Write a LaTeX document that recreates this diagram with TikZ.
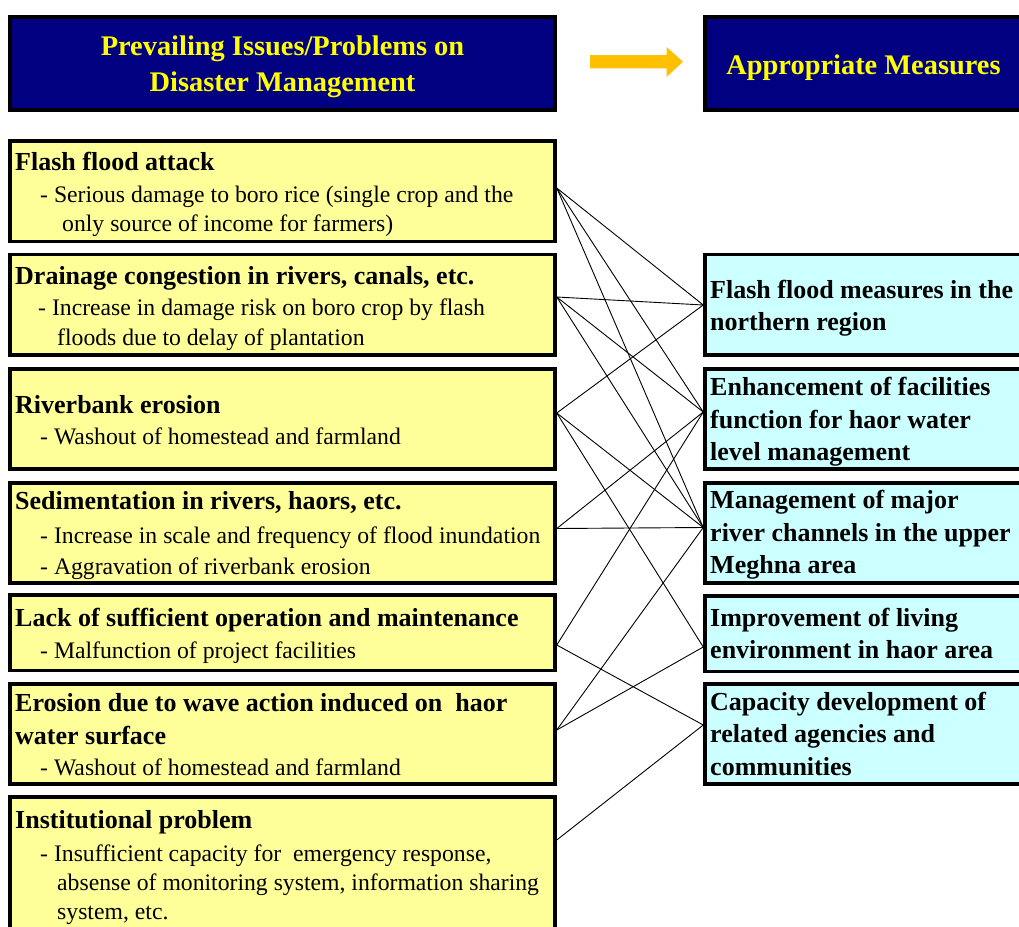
\documentclass[tikz,border=0pt]{standalone}
\usepackage{fontspec}
\setmainfont{Liberation Serif}
\definecolor{hdfill}{HTML}{000080}
\definecolor{hdtext}{HTML}{FFFF00}
\definecolor{issuefill}{HTML}{FFFF99}
\definecolor{measfill}{HTML}{CCFFFF}
\definecolor{arrowfill}{HTML}{FFC000}
\tikzset{
  boxbase/.style={draw=black, line width=3.5pt, rectangle, inner sep=0pt},
  hdbox/.style={boxbase, fill=hdfill},
  lbox/.style={boxbase, fill=issuefill, minimum width=545pt},
  rbox/.style={boxbase, fill=measfill, minimum width=318pt},
  hdtxt/.style={inner sep=0pt, anchor=base, text=hdtext,
    font=\fontsize{28.4pt}{33pt}\selectfont\bfseries},
  ttl/.style={inner sep=0pt, anchor=base west,
    font=\fontsize{26pt}{30pt}\selectfont\bfseries},
  bdy/.style={inner sep=0pt, anchor=base west,
    font=\fontsize{23.7pt}{28pt}\selectfont},
  link/.style={draw=black, line width=0.9pt}
}
\begin{document}
\begin{tikzpicture}[x=1pt,y=-1pt]
\useasboundingbox (0,0) rectangle (1019,926);

% headers
\node[hdbox, minimum width=545pt, minimum height=93pt] (H1) at (282.5,63.5) {};
\node[hdbox, minimum width=318pt, minimum height=93pt] (H2) at (864,63.5) {};
\node[hdtxt] (H1a) at (282.5,55) {Prevailing Issues/Problems on};
\node[hdtxt] (H1b) at (282.5,91) {Disaster Management};
\node[hdtxt] (H2a) at (863.5,74) {Appropriate Measures};

% block arrow between the headers
\fill[arrowfill] (590,55) -- (666.5,55) -- (666.5,47) -- (683,61.7)
  -- (666.5,77) -- (666.5,68.3) -- (590,68.3) -- cycle;

% issue boxes
\node[lbox, minimum height=100.5pt] (L1) at (282.5,191.25) {};
\node[lbox, minimum height=100.5pt] (L2) at (282.5,304.75) {};
\node[lbox, minimum height=100pt]   (L3) at (282.5,419) {};
\node[lbox, minimum height=100pt]   (L4) at (282.5,533) {};
\node[lbox, minimum height=75.5pt]  (L5) at (282.5,632.75) {};
\node[lbox, minimum height=100pt]   (L6) at (282.5,734) {};
\node[lbox, minimum height=150pt]   (L7) at (282.5,872) {};

% measure boxes
\node[rbox, minimum height=100.5pt] (A) at (864,304.75) {};
\node[rbox, minimum height=100pt]   (B) at (864,419) {};
\node[rbox, minimum height=100pt]   (C) at (864,533) {};
\node[rbox, minimum height=75.5pt]  (D) at (864,633.5) {};
\node[rbox, minimum height=100pt]   (E) at (864,734) {};

% connector end points
\coordinate (l1) at (L1.east |- 0,188);
\coordinate (l2) at (L2.east |- 0,297);
\coordinate (l3) at (L3.east |- 0,413);
\coordinate (l4) at (L4.east |- 0,528.5);
\coordinate (l5) at (L5.east |- 0,645);
\coordinate (l6) at (L6.east |- 0,730);
\coordinate (l7) at (L7.east |- 0,840);
\coordinate (ra) at (A.west |- 0,305);
\coordinate (rb) at (B.west |- 0,412);
\coordinate (rc) at (C.west |- 0,527.5);
\coordinate (rd) at (D.west |- 0,647);
\coordinate (re) at (E.west |- 0,725);

% connectors
\draw[link] (l1) -- (ra);
\draw[link] (l1) -- (rb);
\draw[link] (l1) -- (rc);
\draw[link] (l2) -- (ra);
\draw[link] (l2) -- (rb);
\draw[link] (l2) -- (rc);
\draw[link] (l3) -- (ra);
\draw[link] (l3) -- (rc);
\draw[link] (l3) -- (rd);
\draw[link] (l4) -- (rb);
\draw[link] (l4) -- (rc);
\draw[link] (l5) -- (rb);
\draw[link] (l5) -- (re);
\draw[link] (l6) -- (rc);
\draw[link] (l6) -- (rd);
\draw[link] (l7) -- (re);

% issue texts
\node[ttl] (L1a) at (15,170) {Flash flood attack};
\node[bdy] (L1b) at (40,202) {- Serious damage to boro rice (single crop and the};
\node[bdy] (L1c) at (62,231) {only source of income for farmers)};

\node[ttl] (L2a) at (15,284) {Drainage congestion in rivers, canals, etc.};
\node[bdy] (L2b) at (38,315) {- Increase in damage risk on boro crop by flash};
\node[bdy] (L2c) at (57,345) {floods due to delay of plantation};

\node[ttl] (L3a) at (15,413) {Riverbank erosion};
\node[bdy] (L3b) at (40,444) {- Washout of homestead and farmland};

\node[ttl] (L4a) at (15,509) {Sedimentation in rivers, haors, etc.};
\node[bdy] (L4b) at (40,543) {- Increase in scale and frequency of flood inundation};
\node[bdy] (L4c) at (40,574) {- Aggravation of riverbank erosion};

\node[ttl] (L5a) at (15,626) {Lack of sufficient operation and maintenance};
\node[bdy] (L5b) at (40,658) {- Malfunction of project facilities};

\node[ttl] (L6a) at (15,711) {Erosion due to wave action induced on~ haor};
\node[ttl] (L6b) at (15,744) {water surface};
\node[bdy] (L6c) at (40,775) {- Washout of homestead and farmland};

\node[ttl] (L7a) at (15,828) {Institutional problem};
\node[bdy] (L7b) at (40,861) {- Insufficient capacity for~ emergency response,};
\node[bdy] (L7c) at (57,890) {absense of monitoring system, information sharing};
\node[bdy] (L7d) at (57,919) {system, etc.};

% measure texts
\node[ttl] (Aa) at (710,298) {Flash flood measures in the};
\node[ttl] (Ab) at (710,330) {northern region};

\node[ttl] (Ba) at (710,395) {Enhancement of facilities};
\node[ttl] (Bb) at (710,428) {function for haor water};
\node[ttl] (Bc) at (710,460) {level management};

\node[ttl] (Ca) at (710,508) {Management of major};
\node[ttl] (Cb) at (710,541) {river channels in the upper};
\node[ttl] (Cc) at (710,573) {Meghna area};

\node[ttl] (Da) at (710,626) {Improvement of living};
\node[ttl] (Db) at (710,658) {environment in haor area};

\node[ttl] (Ea) at (710,710) {Capacity development of};
\node[ttl] (Eb) at (710,742) {related agencies and};
\node[ttl] (Ec) at (710,775) {communities};
\end{tikzpicture}
\end{document}
